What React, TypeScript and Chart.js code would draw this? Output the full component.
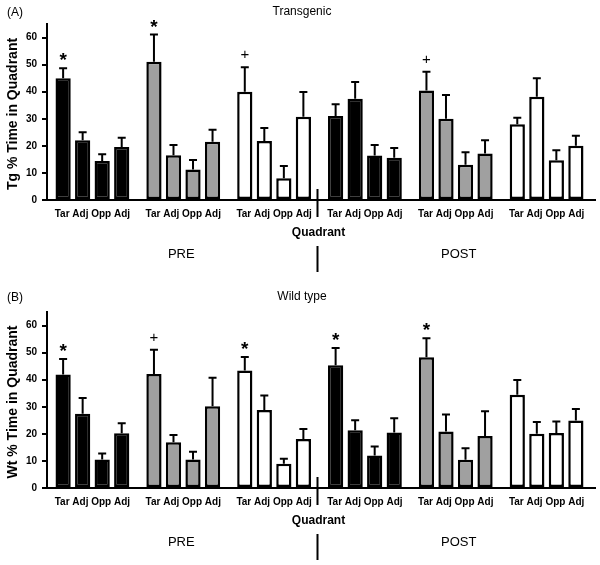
import React, { useEffect, useRef } from "react";
import { Chart, registerables } from "chart.js";

Chart.register(...registerables);

// ---- data ----
const groupLabels = [
  "Tar Adj Opp Adj",
  "Tar Adj Opp Adj",
  "Tar Adj Opp Adj",
  "Tar Adj Opp Adj",
  "Tar Adj Opp Adj",
  "Tar Adj Opp Adj",
];
const quadrantNames = ["Tar", "Adj", "Opp", "Adj"];
const groupColors = ["#000000", "#a0a0a0", "#ffffff", "#000000", "#a0a0a0", "#ffffff"];
const phaseLabels = ["PRE", "POST"];

// Transgenic (A)
const tgTar = [45.0, 51.1, 40.0, 31.0, 40.4, 28.0];
const tgAdj1 = [22.1, 16.5, 21.8, 37.4, 30.0, 38.1];
const tgOpp = [14.4, 11.3, 8.0, 16.4, 13.0, 14.7];
const tgAdj2 = [19.6, 21.5, 30.7, 15.6, 17.2, 20.0];
const tgTarErr = [3.7, 10.0, 9.0, 4.4, 7.0, 2.4];
const tgAdj1Err = [2.9, 3.8, 4.8, 6.2, 8.8, 6.9];
const tgOppErr = [2.5, 3.5, 4.6, 3.9, 4.6, 3.7];
const tgAdj2Err = [3.4, 4.4, 9.2, 3.6, 4.9, 3.7];
const tgMarks = ["*", "*", "+", "", "+", ""];

// Wild type (B)
const wtTar = [41.9, 42.1, 43.4, 45.3, 48.3, 34.4];
const wtAdj1 = [27.4, 16.9, 28.8, 21.3, 20.9, 20.0];
const wtOpp = [10.5, 10.5, 9.0, 12.0, 10.4, 20.3];
const wtAdj2 = [20.2, 30.2, 18.1, 20.5, 19.2, 24.9];
const wtTarErr = [5.7, 9.0, 5.0, 6.4, 7.0, 5.5];
const wtAdj1Err = [5.8, 2.7, 5.4, 3.7, 6.2, 4.4];
const wtOppErr = [2.2, 2.9, 1.8, 3.3, 4.3, 4.3];
const wtAdj2Err = [3.7, 10.5, 3.7, 5.3, 9.1, 4.3];
const wtMarks = ["*", "+", "*", "*", "*", ""];

const FONT = "'Liberation Sans', Arial, Helvetica, sans-serif";

type PanelProps = {
  tag: string;
  title: string;
  yTitle: string;
  values: number[][];
  errors: number[][];
  marks: string[];
  top: number;
  height: number;
  chartTop: number;
  chartBottom: number;
  titleY: number;
};

function Panel(p: PanelProps) {
  const ref = useRef<HTMLCanvasElement | null>(null);

  useEffect(() => {
    if (!ref.current) return;
    const overlay = {
      id: "overlay",
      afterDatasetsDraw(chart: any) {
        const ctx = chart.ctx;
        const y = chart.scales.y;
        ctx.save();
        ctx.strokeStyle = "#000";
        ctx.lineWidth = 2;
        p.values.forEach((vals, i) => {
          const meta = chart.getDatasetMeta(i);
          meta.data.forEach((bar: any, j: number) => {
            const yTop = y.getPixelForValue(vals[j] + p.errors[i][j]);
            ctx.beginPath();
            ctx.moveTo(bar.x, bar.y);
            ctx.lineTo(bar.x, yTop);
            ctx.moveTo(bar.x - 4, yTop);
            ctx.lineTo(bar.x + 4, yTop);
            ctx.stroke();
          });
        });
        // significance markers over Tar bars
        const meta0 = chart.getDatasetMeta(0);
        ctx.fillStyle = "#000";
        ctx.textAlign = "center";
        ctx.textBaseline = "alphabetic";
        p.marks.forEach((m, j) => {
          if (!m) return;
          const bar: any = meta0.data[j];
          const yTop = y.getPixelForValue(p.values[0][j] + p.errors[0][j]);
          const cy = yTop - 13;
          if (m === "*") {
            ctx.font = `bold 19px ${FONT}`;
            ctx.fillText(m, bar.x, cy + 11);
          } else {
            ctx.font = `15px ${FONT}`;
            ctx.fillText(m, bar.x, cy + 5);
          }
        });
        ctx.restore();
      },
      afterDraw(chart: any) {
        const ctx = chart.ctx;
        const area = chart.chartArea;
        const x = chart.scales.x;
        ctx.save();
        ctx.fillStyle = "#000";
        ctx.textBaseline = "middle";
        // panel tag and title
        ctx.font = `12px ${FONT}`;
        ctx.textAlign = "left";
        ctx.fillText(p.tag, 7, p.titleY + 1);
        ctx.textAlign = "center";
        ctx.fillText(p.title, 302, p.titleY);
        // y title
        ctx.save();
        ctx.translate(13, (area.top + area.bottom) / 2 + 2);
        ctx.rotate(-Math.PI / 2);
        ctx.font = `bold 14px ${FONT}`;
        ctx.fillText(p.yTitle, 0, 0);
        ctx.restore();
        // x title
        ctx.font = `bold 12px ${FONT}`;
        ctx.fillText("Quadrant", (area.left + area.right) / 2 - 1, area.bottom + 33);
        // phases
        ctx.font = `13px ${FONT}`;
        ctx.fillText(phaseLabels[0], x.getPixelForValue(1) - 2, area.bottom + 54);
        ctx.fillText(phaseLabels[1], x.getPixelForValue(4) + 3, area.bottom + 54);
        // separators
        const sx = (x.getPixelForValue(2) + x.getPixelForValue(3)) / 2 - 2;
        ctx.strokeStyle = "#000";
        ctx.lineWidth = 2;
        ctx.beginPath();
        ctx.moveTo(sx, area.bottom - 11);
        ctx.lineTo(sx, area.bottom + 17);
        ctx.moveTo(sx, area.bottom + 46);
        ctx.lineTo(sx, area.bottom + 72);
        ctx.stroke();
        // extend x axis line slightly
        ctx.beginPath();
        ctx.moveTo(area.right, area.bottom);
        ctx.lineTo(area.right + 4, area.bottom);
        ctx.stroke();
        ctx.restore();
      },
    };

    const chart = new Chart(ref.current, {
      type: "bar",
      data: {
        labels: groupLabels,
        datasets: p.values.map((vals, i) => ({
          label: quadrantNames[i],
          data: vals,
          backgroundColor: groupColors,
          borderColor: "#000",
          borderWidth: 2.5,
          borderSkipped: false,
          categoryPercentage: 0.86,
          barPercentage: 0.78,
        })),
      },
      options: {
        animation: false,
        responsive: true,
        maintainAspectRatio: false,
        layout: { padding: { top: p.chartTop, right: 8, left: 0, bottom: 0 } },
        plugins: {
          legend: { display: false },
          tooltip: { enabled: false },
          title: { display: false },
        },
        scales: {
          x: {
            type: "category",
            grid: { display: false, drawTicks: false },
            border: { display: true, color: "#000", width: 2 },
            ticks: {
              color: "#000",
              font: { family: FONT, size: 10, weight: "bold" },
              padding: 8,
              maxRotation: 0,
              autoSkip: false,
            },
            afterFit: (s: any) => {
              s.height = p.height - p.chartBottom;
            },
          },
          y: {
            type: "linear",
            min: 0,
            max: 65,
            grid: {
              display: true,
              drawOnChartArea: false,
              drawTicks: true,
              tickLength: 5,
              color: "#000",
              lineWidth: 2,
            },
            border: { display: true, color: "#000", width: 2 },
            ticks: {
              stepSize: 10,
              color: "#000",
              font: { family: FONT, size: 10, weight: "bold" },
              padding: 5,
            },
            afterBuildTicks: (s: any) => {
              s.ticks = s.ticks.filter((t: any) => t.value <= 60);
            },
            afterFit: (s: any) => {
              s.width = 47;
            },
          },
        },
      },
      plugins: [overlay],
    });
    return () => chart.destroy();
  }, []);

  return (
    <div
      style={{
        position: "absolute",
        left: 0,
        top: p.top,
        width: 600,
        height: p.height,
      }}
    >
      <canvas ref={ref} />
    </div>
  );
}

export default function App() {
  return (
    <div
      style={{
        position: "absolute",
        left: 0,
        top: 0,
        width: 600,
        height: 565,
        background: "#fff",
      }}
    >
      <Panel
        tag="(A)"
        title="Transgenic"
        yTitle="Tg % Time in Quadrant"
        values={[tgTar, tgAdj1, tgOpp, tgAdj2]}
        errors={[tgTarErr, tgAdj1Err, tgOppErr, tgAdj2Err]}
        marks={tgMarks}
        top={0}
        height={282}
        chartTop={24}
        chartBottom={200}
        titleY={12}
      />
      <Panel
        tag="(B)"
        title="Wild type"
        yTitle="Wt % Time in Quadrant"
        values={[wtTar, wtAdj1, wtOpp, wtAdj2]}
        errors={[wtTarErr, wtAdj1Err, wtOppErr, wtAdj2Err]}
        marks={wtMarks}
        top={283}
        height={282}
        chartTop={29}
        chartBottom={205}
        titleY={14}
      />
    </div>
  );
}
